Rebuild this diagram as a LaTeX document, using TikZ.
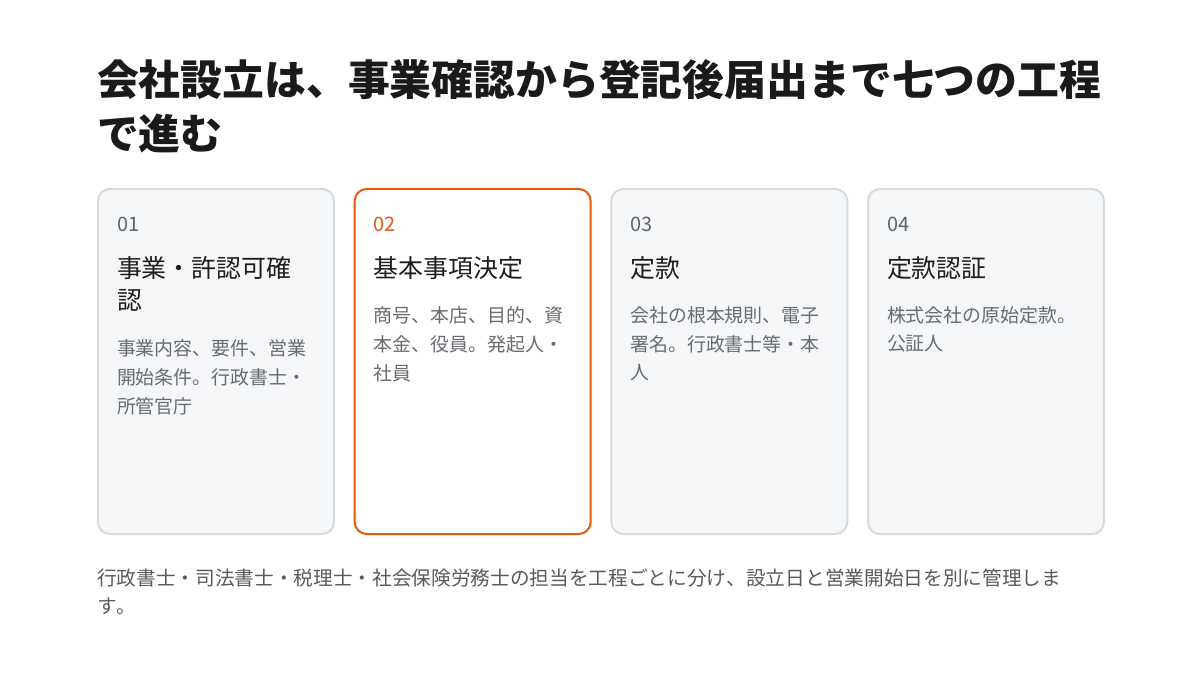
\documentclass[tikz,border=0pt]{standalone}
\usepackage{fontspec}
\setmainfont{Noto Sans CJK JP}[Kerning=Off]
\definecolor{cardborder}{HTML}{D6DADD}
\definecolor{cardfill}{HTML}{F5F6F8}
\definecolor{accent}{HTML}{E8590C}
\definecolor{titleblack}{HTML}{1A1A1A}
\definecolor{headblack}{HTML}{1E1E1E}
\definecolor{numgray}{HTML}{5F6368}
\definecolor{descgray}{HTML}{686C70}
\definecolor{footgray}{HTML}{5A5A5A}
\tikzset{
  card/.style={draw=cardborder, line width=2bp, fill=cardfill, rounded corners=12bp,
    minimum width=236bp, minimum height=345bp, anchor=north west, inner sep=0pt},
  activecard/.style={card, draw=accent, fill=white},
  txt/.style={anchor=west, inner sep=0pt, outer sep=0pt},
  titletxt/.style={txt, text=titleblack, font=\fontsize{42}{42}\selectfont\bfseries},
  numtxt/.style={txt, text=numgray, font=\fontsize{20}{20}\selectfont},
  headtxt/.style={txt, text=headblack, font=\fontsize{25}{25}\selectfont},
  desctxt/.style={txt, text=descgray, font=\fontsize{19}{19}\selectfont},
  foottxt/.style={txt, text=footgray, font=\fontsize{19.75}{19.75}\selectfont}
}
\begin{document}
\begin{tikzpicture}[x=1bp,y=-1bp]
\useasboundingbox (0,0) rectangle (1200,675);
\fill[white] (0,0) rectangle (1200,675);

% title
\node[titletxt] (t1) at (97,80) {会社設立は、事業確認から登記後届出まで七つの工程};
\node[titletxt] (t2) at (97,133) {で進む};

% cards
\node[card] (c1) at (97,188) {};
\node[activecard] (c2) at (353.7,188) {};
\node[card] (c3) at (610.3,188) {};
\node[card] (c4) at (867,188) {};

% card 1
\node[numtxt] (n1) at (117,224) {01};
\node[headtxt] (h1a) at (117,268) {事業・許認可確};
\node[headtxt] (h1b) at (117,300) {認};
\node[desctxt] (d1a) at (117,348) {事業内容、要件、営業};
\node[desctxt] (d1b) at (117,377) {開始条件。行政書士・};
\node[desctxt] (d1c) at (117,406) {所管官庁};

% card 2
\node[numtxt, text=accent] (n2) at (373.7,224) {02};
\node[headtxt] (h2a) at (373.7,268) {基本事項決定};
\node[desctxt] (d2a) at (373.7,315) {商号、本店、目的、資};
\node[desctxt] (d2b) at (373.7,344) {本金、役員。発起人・};
\node[desctxt] (d2c) at (373.7,373) {社員};

% card 3
\node[numtxt] (n3) at (630.3,224) {03};
\node[headtxt] (h3a) at (630.3,268) {定款};
\node[desctxt] (d3a) at (630.3,315) {会社の根本規則、電子};
\node[desctxt] (d3b) at (630.3,344) {署名。行政書士等・本};
\node[desctxt] (d3c) at (630.3,373) {人};

% card 4
\node[numtxt] (n4) at (887,224) {04};
\node[headtxt] (h4a) at (887,268) {定款認証};
\node[desctxt] (d4a) at (887,315) {株式会社の原始定款。};
\node[desctxt] (d4b) at (887,344) {公証人};

% footer
\node[foottxt] (f1) at (97,578) {行政書士・司法書士・税理士・社会保険労務士の担当を工程ごとに分け、設立日と営業開始日を別に管理しま};
\node[foottxt] (f2) at (97,606) {す。};
\end{tikzpicture}
\end{document}
